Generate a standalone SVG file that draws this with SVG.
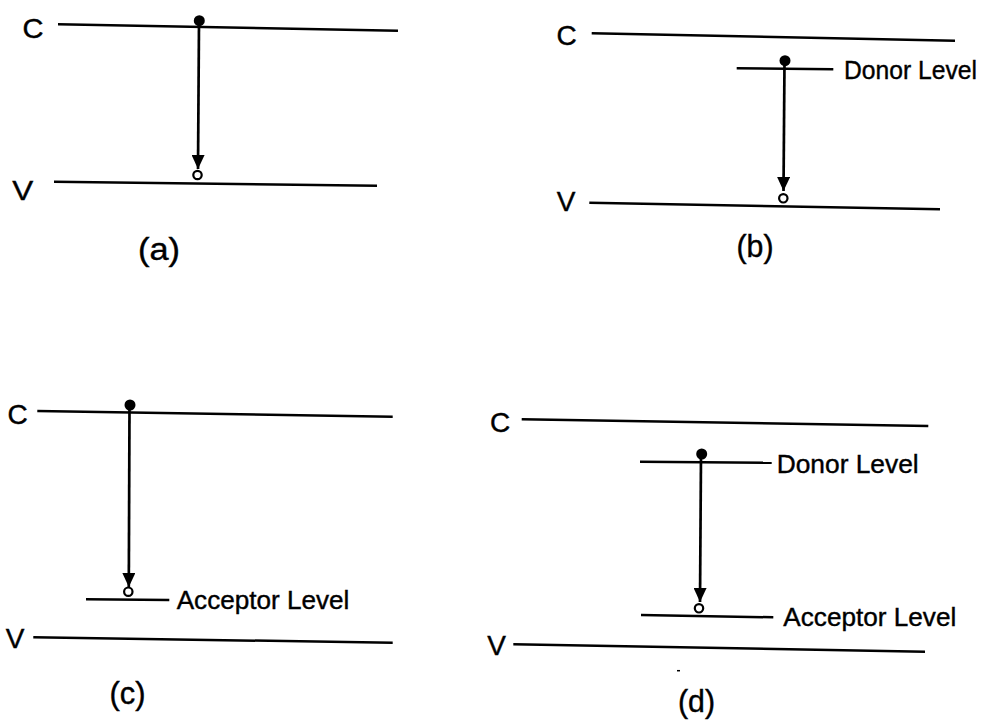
<svg xmlns="http://www.w3.org/2000/svg" width="992" height="724" viewBox="0 0 992 724">
<style>
.ln{stroke:#000;stroke-width:2.5;fill:none;stroke-linecap:butt}
.sh{stroke:#000;stroke-width:2.7;fill:none}
.el{fill:#000}
.hole{fill:#fff;stroke:#000;stroke-width:2.2}
text{font-family:"Liberation Sans",Arial,sans-serif;fill:#000;stroke:#000;stroke-width:0.4}
.band{font-size:28px;text-anchor:middle}
.lvl{font-size:26px}
.cap{font-size:31px;text-anchor:middle}
</style>
<defs>
<marker id="ah" viewBox="0 0 14 13" refX="14" refY="6.5" markerWidth="14" markerHeight="13" markerUnits="userSpaceOnUse" orient="auto">
<path d="M0,0 L14,6.5 L0,13 z" fill="#000"/>
</marker>
</defs>
<rect width="992" height="724" fill="#fff"/>

<g id="connectors">
<line class="sh" x1="199" y1="22" x2="198" y2="169" marker-end="url(#ah)"/>
<line class="sh" x1="784.5" y1="62" x2="783.5" y2="191" marker-end="url(#ah)"/>
<line class="sh" x1="129.5" y1="406" x2="128.8" y2="587" marker-end="url(#ah)"/>
<line class="sh" x1="701" y1="455" x2="700" y2="602" marker-end="url(#ah)"/>
</g>

<g id="panel-a">
<line class="ln" x1="58" y1="24.3" x2="398" y2="30.7"/>
<line class="ln" x1="54" y1="181.7" x2="377" y2="185.7"/>
<text class="band" x="33" y="37.5" textLength="21" lengthAdjust="spacingAndGlyphs">C</text>
<text class="band" x="22.7" y="200" textLength="21" lengthAdjust="spacingAndGlyphs">V</text>
<circle class="el" cx="199.3" cy="20.7" r="5.5"/>
<circle class="hole" cx="197.5" cy="175" r="4.2"/>
<text class="cap" x="159" y="260" textLength="42" lengthAdjust="spacingAndGlyphs">(a)</text>
</g>

<g id="panel-b">
<line class="ln" x1="591.7" y1="33.3" x2="955" y2="40.7"/>
<line class="ln" x1="736.7" y1="68.3" x2="833.3" y2="69.3"/>
<line class="ln" x1="589.3" y1="202.7" x2="940" y2="209.3"/>
<text class="band" x="566.5" y="45">C</text>
<text class="band" x="566" y="211">V</text>
<circle class="el" cx="785" cy="60.7" r="5.5"/>
<circle class="hole" cx="783.3" cy="198.3" r="4.2"/>
<text class="lvl" x="844" y="79.3" textLength="133" lengthAdjust="spacingAndGlyphs">Donor Level</text>
<text class="cap" x="755" y="257" textLength="37" lengthAdjust="spacingAndGlyphs">(b)</text>
</g>

<g id="panel-c">
<line class="ln" x1="37.3" y1="411" x2="392.7" y2="416.7"/>
<line class="ln" x1="86" y1="599.3" x2="169.3" y2="600"/>
<line class="ln" x1="33.3" y1="637.3" x2="392.7" y2="642.7"/>
<text class="band" x="17.5" y="423.5">C</text>
<text class="band" x="15" y="648">V</text>
<circle class="el" cx="130" cy="405" r="5.5"/>
<circle class="hole" cx="128.3" cy="591.7" r="4.2"/>
<text class="lvl" x="176.7" y="609" textLength="172.6" lengthAdjust="spacingAndGlyphs">Acceptor Level</text>
<text class="cap" x="127.5" y="704" textLength="36" lengthAdjust="spacingAndGlyphs">(c)</text>
</g>

<g id="panel-d">
<line class="ln" x1="521.7" y1="419.3" x2="928.3" y2="426"/>
<line class="ln" x1="640" y1="461.7" x2="771.7" y2="462.7"/>
<line class="ln" x1="641" y1="615" x2="773.3" y2="617.3"/>
<line class="ln" x1="513.3" y1="644.3" x2="925" y2="651.7"/>
<text class="band" x="500" y="431.5">C</text>
<text class="band" x="496.7" y="655">V</text>
<circle class="el" cx="701.7" cy="454" r="5.5"/>
<circle class="hole" cx="699" cy="608.3" r="4.2"/>
<text class="lvl" x="776.7" y="473" textLength="142" lengthAdjust="spacingAndGlyphs">Donor Level</text>
<text class="lvl" x="783.3" y="626" textLength="173" lengthAdjust="spacingAndGlyphs">Acceptor Level</text>
<line class="ln" x1="677" y1="670.7" x2="680" y2="670.7" style="stroke-width:1.5"/>
<text class="cap" x="696.5" y="712" textLength="37" lengthAdjust="spacingAndGlyphs">(d)</text>
</g>
</svg>
